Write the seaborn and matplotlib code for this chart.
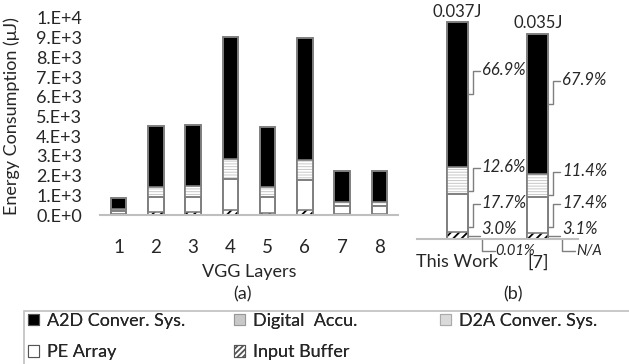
import numpy as np
import matplotlib
matplotlib.use("Agg")
import matplotlib.pyplot as plt
from matplotlib.patches import Patch, Rectangle
import seaborn as sns

# ---------------- data ----------------
layers = ["1", "2", "3", "4", "5", "6", "7", "8"]
d2a_uj = [1, 1, 1, 1, 1, 1, 1, 1]
input_buffer_uj = [50, 170, 170, 250, 100, 250, 60, 60]
pe_array_uj = [150, 760, 760, 1580, 800, 1510, 410, 410]
digital_accu_uj = [90, 510, 520, 1000, 510, 1030, 200, 200]
a2d_uj = [570, 3080, 3120, 6220, 3070, 6210, 1580, 1580]
ytick_values = [0, 1000, 2000, 3000, 4000, 5000, 6000, 7000, 8000, 9000, 10000]
ytick_labels = ["0.E+0", "1.E+3", "2.E+3", "3.E+3", "4.E+3", "5.E+3",
                "6.E+3", "7.E+3", "8.E+3", "9.E+3", "1.E+4"]

works = ["This Work", "[7]"]
total_j = [0.037, 0.035]
total_labels = ["0.037J", "0.035J"]
a2d_pct = [66.9, 67.9]
digital_accu_pct = [12.6, 11.4]
pe_array_pct = [17.7, 17.4]
input_buffer_pct = [3.0, 3.1]
d2a_pct = [0.01, 0.0]
d2a_labels = ["0.01%", "N/A"]

legend_names = ["A2D Conver. Sys.", "Digital  Accu.", "D2A Conver. Sys.",
                "PE Array", "Input Buffer"]

# ---------------- style ----------------
sns.set_style("white")
FONT = ["Lato", "DejaVu Sans"]
plt.rcParams["font.family"] = FONT
plt.rcParams["hatch.linewidth"] = 1.3
EDGE = "#7f7f7f"
AXC = "#bfbfbf"

styles = {
    "a2d": dict(face="#000000"),
    "da": dict(face="#c8c8c8", hatch="------", hc="#ffffff"),
    "d2a": dict(face="#e4e4e4"),
    "pe": dict(face="#ffffff"),
    "ib": dict(face="#ffffff", hatch="////", hc="#000000"),
}

fig = plt.figure(figsize=(6.29, 3.64), dpi=100)


def draw_stack(ax, cats, comps, width):
    vals = np.array([c[0] for c in comps], dtype=float)
    cum = np.cumsum(vals, axis=0)
    for k in reversed(range(len(comps))):
        st = styles[comps[k][1]]
        y = cum[k]
        if "hatch" in st:
            sns.barplot(x=cats, y=y, color=st["face"], saturation=1, width=width,
                        hatch=st["hatch"], edgecolor=st["hc"], linewidth=0,
                        errorbar=None, ax=ax)
        else:
            sns.barplot(x=cats, y=y, color=st["face"], saturation=1, width=width,
                        edgecolor=EDGE, linewidth=1.2, errorbar=None, ax=ax)
        sns.barplot(x=cats, y=y, fill=False, color=EDGE, width=width,
                    linewidth=1.2, errorbar=None, ax=ax)
    return cum


def clean(ax):
    for s in ["left", "top", "right"]:
        ax.spines[s].set_visible(False)
    ax.spines["bottom"].set_color(AXC)
    ax.spines["bottom"].set_linewidth(1.5)
    ax.tick_params(length=0)


# ---------------- (a) ----------------
ax1 = fig.add_axes([100 / 629, 1 - 215 / 364, 298 / 629, 197 / 364])
w1 = 0.41
draw_stack(ax1, layers, [(d2a_uj, "d2a"), (input_buffer_uj, "ib"), (pe_array_uj, "pe"),
                         (digital_accu_uj, "da"), (a2d_uj, "a2d")], w1)
ax1.set_xlim(-0.5, len(layers) - 0.5)
ax1.set_ylim(0, 10000)
ax1.set_yticks(ytick_values)
ax1.set_yticklabels(ytick_labels)
clean(ax1)
ax1.tick_params(axis="y", pad=13, labelsize=13)
ax1.tick_params(axis="x", pad=17, labelsize=13.5)
ax1.set_xlabel("VGG Layers", fontsize=13, labelpad=6)
ax1.set_ylabel("Energy Consumption (\u03bcJ)", fontsize=13)
ax1.yaxis.set_label_coords(-0.268, 0.5)

# ---------------- (b) ----------------
ax2 = fig.add_axes([417 / 629, 1 - 239 / 364, 161 / 629, 221 / 364])
w2 = 0.26
tot = np.array(total_j)
a2d_j = tot * np.array(a2d_pct) / 100
da_j = tot * np.array(digital_accu_pct) / 100
pe_j = tot * np.array(pe_array_pct) / 100
ib_j = tot * np.array(input_buffer_pct) / 100
d2a_j = tot * np.array(d2a_pct) / 100
draw_stack(ax2, works, [(d2a_j, "d2a"), (ib_j, "ib"), (pe_j, "pe"),
                        (da_j, "da"), (a2d_j, "a2d")], w2)
ax2.set_xlim(-0.5, len(works) - 0.5)
ax2.set_ylim(0, 221 / 5857)
ax2.set_yticks([])
clean(ax2)
ax2.tick_params(axis="x", pad=11, labelsize=13)
ax2.set_xlabel("")
ax2.set_ylabel("")


def off(ax, x, y, dx, dy):
    X, Y = ax.transData.transform((x, y))
    return ax.transData.inverted().transform((X + dx, Y + dy))


LC = "#7f7f7f"
for i in range(len(works)):
    edge = i + w2 / 2
    ax2.annotate(total_labels[i], (i, total_j[i]), xytext=(0, 2),
                 textcoords="offset points", ha="center", va="bottom", fontsize=12)
    bottoms = np.cumsum([d2a_j[i], ib_j[i], pe_j[i], da_j[i]])
    segs = [  # (bottom, height, pct, anchor fraction)
        (bottoms[1], pe_j[i], pe_array_pct[i], 0.15),
        (bottoms[2], da_j[i], digital_accu_pct[i], 0.1),
        (bottoms[3], a2d_j[i], a2d_pct[i], 0.5),
    ]
    for b, h, p, fr in segs:
        ya = b + fr * h
        pts = [off(ax2, edge, ya, dx, dy) for dx, dy in [(0, 0), (5, 0), (5, 23), (12, 23)]]
        ax2.plot([q[0] for q in pts], [q[1] for q in pts], color=LC, lw=1, clip_on=False)
        tx, ty = off(ax2, edge, ya, 14, 24)
        ax2.text(tx, ty, f"{p:.1f}%", ha="left", va="center", fontsize=12,
                 style="italic", clip_on=False)
    # input buffer
    ya = bottoms[0] + 0.5 * ib_j[i]
    pts = [off(ax2, edge, ya, dx, 0) for dx in (0, 12)]
    ax2.plot([q[0] for q in pts], [q[1] for q in pts], color=LC, lw=1, clip_on=False)
    tx, ty = off(ax2, edge, ya, 14, 7)
    ax2.text(tx, ty, f"{input_buffer_pct[i]:.1f}%", ha="left", va="center",
             fontsize=12, style="italic", clip_on=False)
    # d2a
    pts = [off(ax2, edge, 0, dx, dy) for dx, dy in [(14, 0), (14, -12), (27, -12)]]
    ax2.plot([q[0] for q in pts], [q[1] for q in pts], color=LC, lw=1, clip_on=False)
    tx, ty = off(ax2, edge, 0, 28, -12)
    ax2.text(tx, ty, d2a_labels[i], ha="left", va="center", fontsize=10.5,
             style="italic", clip_on=False)

fig.text(243 / 629, 1 - 294 / 364, "(a)", ha="center", va="center", fontsize=13)
fig.text(513 / 629, 1 - 294 / 364, "(b)", ha="center", va="center", fontsize=13)

# ---------------- legend ----------------
def handle(key):
    st = styles[key]
    if key == "ib":
        return Patch(facecolor="#ffffff", edgecolor="#555555", hatch="//////", lw=0.8)
    if key == "da":
        return Patch(facecolor="#c8c8c8", edgecolor="#999999", lw=0.8)
    if key == "d2a":
        return Patch(facecolor="#dadada", edgecolor="#aaaaaa", lw=0.8)
    return Patch(facecolor=st["face"], edgecolor="#555555", lw=0.8)


fig.patches.append(Rectangle((24 / 629, -0.05), 0.98, (1 - 311 / 364) + 0.05,
                             transform=fig.transFigure, facecolor="none",
                             edgecolor=AXC, lw=1.2))
keys = ["a2d", "da", "d2a", "pe", "ib"]
columns = [[0, 3], [1, 4], [2]]
col_x = [28, 234, 440]
for cx, col in zip(col_x, columns):
    leg = fig.legend([handle(keys[j]) for j in col], [legend_names[j] for j in col],
                     ncol=1, loc="upper left", bbox_to_anchor=(cx / 629, 1 - 313 / 364),
                     frameon=False, fontsize=13, handlelength=0.6,
                     handleheight=0.6, handletextpad=0.45, borderpad=0,
                     labelspacing=0.85, borderaxespad=0)
    fig.add_artist(leg)

fig.savefig("out.png", dpi=100)
